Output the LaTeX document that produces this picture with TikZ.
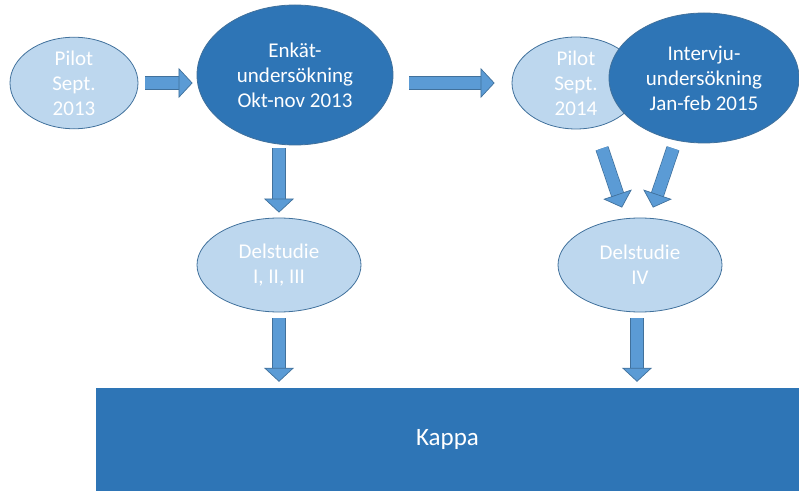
\documentclass[tikz,border=0pt]{standalone}
\usepackage{fontspec}
\setmainfont{Carlito}
\usetikzlibrary{arrows.meta,positioning,shapes.geometric}
\usepackage{xcolor}
\definecolor{darkblue}{HTML}{2E75B6}
\definecolor{lightblue}{HTML}{BDD7EE}
\definecolor{edgeblue}{HTML}{41719C}
\definecolor{arrowblue}{HTML}{5B9BD5}

\tikzset{
    bubble/.style={ellipse, inner sep=0pt, align=center, draw=edgeblue, line width=0.8pt,
        text=white, font=\fontsize{21}{25}\selectfont},
    pilot/.style={bubble, fill=lightblue},
    survey/.style={bubble, fill=darkblue},
    flow/.style={draw=arrowblue, line width=12pt,
        -{Triangle[width=30pt, length=14pt, line width=0.7pt, fill=arrowblue, color=edgeblue]},
        preaction={draw=edgeblue, line width=13.4pt, -, shorten >=13pt}}
}

\begin{document}
\begin{tikzpicture}[x=1pt, y=1pt]
            \useasboundingbox (0,0) rectangle (799,490);

            % Top row
            \node[pilot, minimum width=128, minimum height=90] (p13) at (74,407) {Pilot\\Sept.\\2013};
            \node[survey, minimum width=196, minimum height=140] (enk) at (295,415) {Enkät-\\undersökning\\Okt-nov 2013};
            \node[pilot, minimum width=128, minimum height=92] (p14) at (576,407) {Pilot\\Sept.\\2014};
            \node[survey, minimum width=190, minimum height=130] (intv) at (704,412) {Intervju-\\undersökning\\Jan-feb 2015};

            % Studies
            \node[pilot, minimum width=164, minimum height=94] (del1) at (279,225) {Delstudie\\I, II, III};
            \node[pilot, minimum width=164, minimum height=94] (del4) at (640,225) {Delstudie\\IV};

            % Kappa
            \node[rectangle, fill=darkblue, draw=darkblue, minimum width=703, minimum height=102, inner sep=0pt,
                text=white, font=\fontsize{25}{30}\selectfont] (kappa) at (447.5,51) {Kappa};

            % Arrows
            \draw[flow] ([xshift=7]p13.east) -- ([xshift=-4]enk.west |- p13.east);
            \draw[flow] ([xshift=16]enk.east |- p14.west) -- ([xshift=-17]p14.west);
            \draw[flow] ([yshift=-3]enk.south -| del1.north) -- ([yshift=5]del1.north);
            \draw[flow] ([shift={(26,-19)}]p14.south) -- ([shift={(-18,10)}]del4.north);
            \draw[flow] ([shift={(-31,-5)}]intv.south) -- ([shift={(13,10)}]del4.north);
            \draw[flow] ([yshift=-6]del1.south) -- ([yshift=6]kappa.north -| del1.south);
            \draw[flow] ([shift={(-3,-6)}]del4.south) -- ([shift={(-3,6)}]kappa.north -| del4.south);
        \end{tikzpicture}
\end{document}
